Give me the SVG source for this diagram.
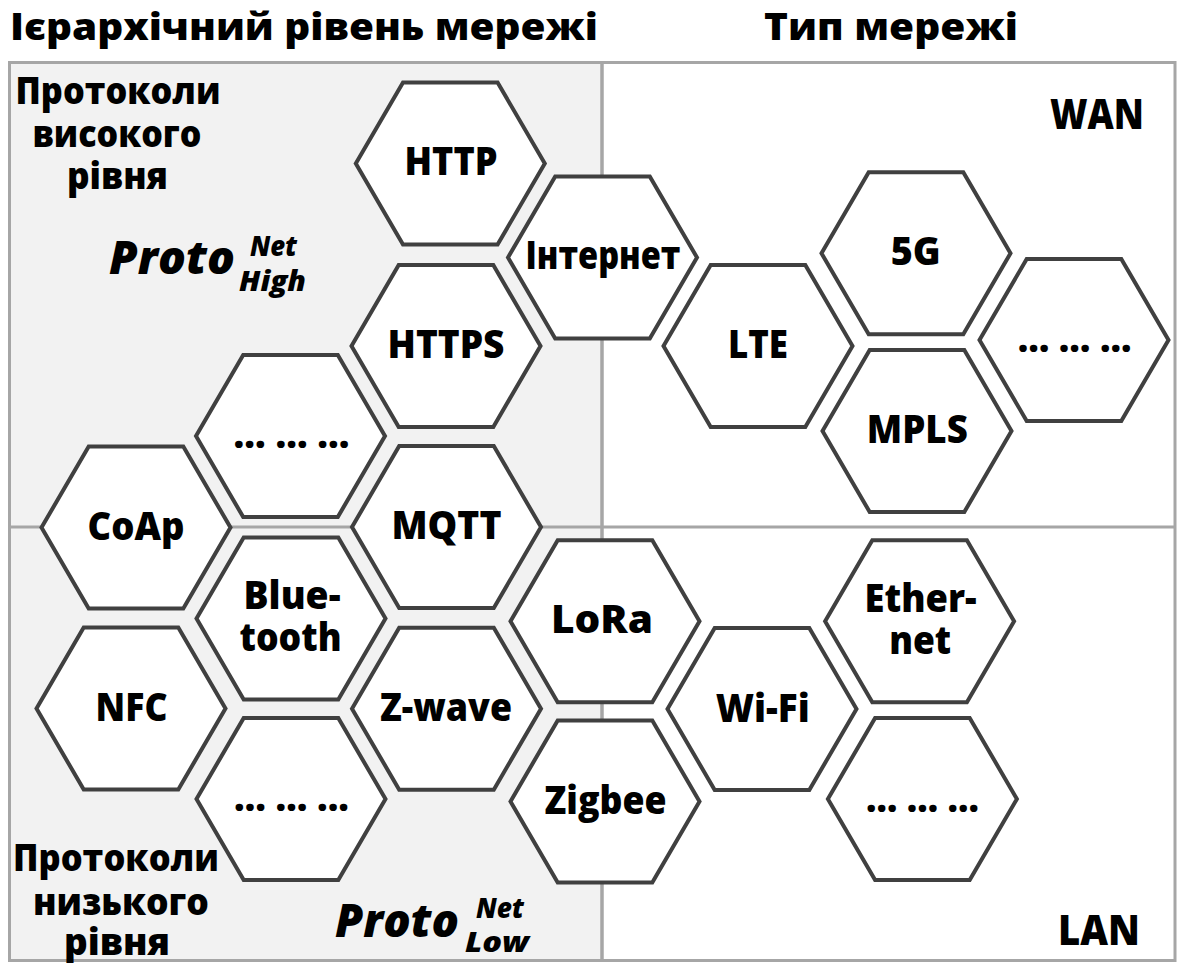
<svg xmlns="http://www.w3.org/2000/svg" xmlns:xlink="http://www.w3.org/1999/xlink" width="1178" height="963" viewBox="0 0 1178 963">
<defs>
<style>
text { font-family: 'Open Sans', 'Noto Sans', 'DejaVu Sans', sans-serif; font-weight: 800; fill: #000; text-anchor: middle; }
.hex { fill: #ffffff; stroke: #404040; stroke-width: 4; stroke-linejoin: miter; }
.frame { stroke: #a6a6a6; stroke-width: 3; }
.lbl { font-size: 38px; }
.ttl { font-size: 37px; }
.side { font-size: 37px; }
.corner { font-size: 43px; }
.proto { font-size: 46px; font-style: italic; text-anchor: start; }
.sup { font-size: 28px; font-style: italic; text-anchor: start; }
</style>
<polygon id="hex" class="hex" points="-94.5,0 -47.3,-81 47.3,-81 94.5,0 47.3,81 -47.3,81"/>
</defs>

<g id="background">
<rect x="9.5" y="62.5" width="592.5" height="898" fill="#f2f2f2"/>
<rect x="602" y="62.5" width="573" height="898" fill="#ffffff"/>
<rect x="9.5" y="62.5" width="592.5" height="898" fill="none" class="frame"/>
<rect x="602" y="62.5" width="573" height="898" fill="none" class="frame"/>
<line x1="9.5" y1="527" x2="1175" y2="527" class="frame"/>
</g>

<g id="titles">
<text class="ttl" x="304" y="40" textLength="588" lengthAdjust="spacingAndGlyphs">Ієрархічний рівень мережі</text>
<text class="ttl" x="891" y="40" textLength="254" lengthAdjust="spacingAndGlyphs">Тип мережі</text>
</g>

<g id="label-high">
<text class="side" x="118" y="104" textLength="205" lengthAdjust="spacingAndGlyphs">Протоколи</text>
<text class="side" x="117" y="147" textLength="169" lengthAdjust="spacingAndGlyphs">високого</text>
<text class="side" x="117.5" y="189" textLength="101" lengthAdjust="spacingAndGlyphs">рівня</text>
</g>
<g id="label-proto-high">
<text class="proto" x="109" y="274" textLength="126" lengthAdjust="spacingAndGlyphs">Proto</text>
<text class="sup" x="250" y="256" textLength="47" lengthAdjust="spacingAndGlyphs">Net</text>
<text class="sup" x="239" y="291" textLength="67" lengthAdjust="spacingAndGlyphs">High</text>
</g>
<g id="label-low">
<text class="side" x="116" y="871" textLength="206" lengthAdjust="spacingAndGlyphs">Протоколи</text>
<text class="side" x="121" y="915" textLength="176" lengthAdjust="spacingAndGlyphs">низького</text>
<text class="side" x="117" y="955" textLength="106" lengthAdjust="spacingAndGlyphs">рівня</text>
</g>
<g id="label-proto-low">
<text class="proto" x="335" y="937" textLength="124" lengthAdjust="spacingAndGlyphs">Proto</text>
<text class="sup" x="476" y="918" textLength="48" lengthAdjust="spacingAndGlyphs">Net</text>
<text class="sup" x="465" y="952" textLength="64" lengthAdjust="spacingAndGlyphs">Low</text>
</g>
<g id="label-wan"><text class="corner" x="1097" y="129" textLength="94" lengthAdjust="spacingAndGlyphs">WAN</text></g>
<g id="label-lan"><text class="corner" x="1099" y="945" textLength="82" lengthAdjust="spacingAndGlyphs">LAN</text></g>

<g id="connectors"></g>

<g id="node-http"><use xlink:href="#hex" x="450.3" y="163.5"/><text class="lbl" x="451" y="175" textLength="93" lengthAdjust="spacingAndGlyphs">HTTP</text></g>
<g id="node-internet"><use xlink:href="#hex" x="602.5" y="257.5"/><text class="lbl" x="603" y="269" textLength="155" lengthAdjust="spacingAndGlyphs">Інтернет</text></g>
<g id="node-https"><use xlink:href="#hex" x="446" y="346"/><text class="lbl" x="446" y="358" textLength="117" lengthAdjust="spacingAndGlyphs">HTTPS</text></g>
<g id="node-more-high"><use xlink:href="#hex" x="290.5" y="436"/><text class="lbl" x="291.5" y="448" textLength="116" lengthAdjust="spacingAndGlyphs">… … ...</text></g>
<g id="node-coap"><use xlink:href="#hex" x="136" y="527.5"/><text class="lbl" x="136" y="539.5" textLength="97" lengthAdjust="spacingAndGlyphs">CoAp</text></g>
<g id="node-mqtt"><use xlink:href="#hex" x="446.5" y="527"/><text class="lbl" x="446.5" y="539" textLength="110" lengthAdjust="spacingAndGlyphs">MQTT</text></g>
<g id="node-bluetooth"><use xlink:href="#hex" x="291" y="618.5"/><text class="lbl" x="292" y="609" textLength="97" lengthAdjust="spacingAndGlyphs">Blue-</text><text class="lbl" x="290.5" y="651" textLength="102" lengthAdjust="spacingAndGlyphs">tooth</text></g>
<g id="node-nfc"><use xlink:href="#hex" x="131" y="708.5"/><text class="lbl" x="131.5" y="720.5" textLength="72" lengthAdjust="spacingAndGlyphs">NFC</text></g>
<g id="node-zwave"><use xlink:href="#hex" x="446.5" y="708.7"/><text class="lbl" x="446" y="721" textLength="132" lengthAdjust="spacingAndGlyphs">Z-wave</text></g>
<g id="node-more-low"><use xlink:href="#hex" x="291" y="799"/><text class="lbl" x="291.5" y="811" textLength="115" lengthAdjust="spacingAndGlyphs">… … ...</text></g>
<g id="node-lora"><use xlink:href="#hex" x="605" y="621.3"/><text class="lbl" x="602" y="633" textLength="102" lengthAdjust="spacingAndGlyphs">LoRa</text></g>
<g id="node-zigbee"><use xlink:href="#hex" x="605" y="801.5"/><text class="lbl" x="605.5" y="813.5" textLength="122" lengthAdjust="spacingAndGlyphs">Zigbee</text></g>
<g id="node-lte"><use xlink:href="#hex" x="758" y="346"/><text class="lbl" x="758" y="358" textLength="60" lengthAdjust="spacingAndGlyphs">LTE</text></g>
<g id="node-5g"><use xlink:href="#hex" x="916" y="253.3"/><text class="lbl" x="915.7" y="265" textLength="50" lengthAdjust="spacingAndGlyphs">5G</text></g>
<g id="node-mpls"><use xlink:href="#hex" x="917" y="431"/><text class="lbl" x="917.3" y="443" textLength="101" lengthAdjust="spacingAndGlyphs">MPLS</text></g>
<g id="node-more-wan"><use xlink:href="#hex" x="1074" y="340"/><text class="lbl" x="1074.7" y="352" textLength="114" lengthAdjust="spacingAndGlyphs">… … ...</text></g>
<g id="node-wifi"><use xlink:href="#hex" x="762" y="709"/><text class="lbl" x="762.7" y="721.5" textLength="94" lengthAdjust="spacingAndGlyphs">Wi-Fi</text></g>
<g id="node-ethernet"><use xlink:href="#hex" x="919.6" y="621.3"/><text class="lbl" x="920.5" y="611.5" textLength="112" lengthAdjust="spacingAndGlyphs">Ether-</text><text class="lbl" x="920.2" y="653.5" textLength="62" lengthAdjust="spacingAndGlyphs">net</text></g>
<g id="node-more-lan"><use xlink:href="#hex" x="922.4" y="799"/><text class="lbl" x="922.5" y="811.5" textLength="113" lengthAdjust="spacingAndGlyphs">… … ...</text></g>
</svg>
